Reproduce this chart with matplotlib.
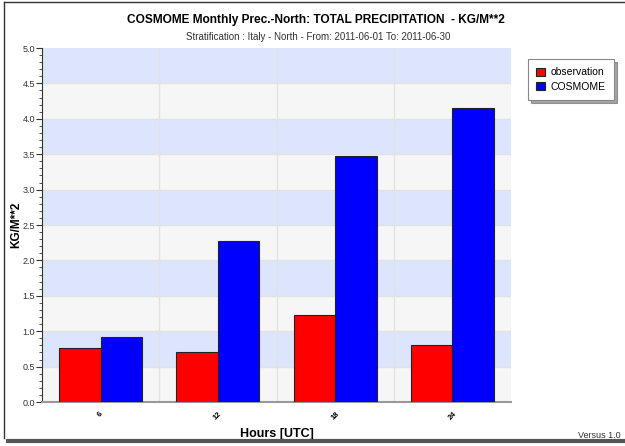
import matplotlib
matplotlib.use("Agg")
import matplotlib.pyplot as plt
from matplotlib.lines import Line2D
from matplotlib.ticker import MultipleLocator, FormatStrFormatter
import numpy as np

plt.rcParams["font.family"] = ["Liberation Sans", "DejaVu Sans"]

hours = ["6", "12", "18", "24"]
observation = [0.76, 0.70, 1.23, 0.80]
cosmome = [0.92, 2.27, 3.47, 4.15]

fig = plt.figure(figsize=(6.25, 4.46), dpi=100)
ax = fig.add_axes([42 / 625, 1 - 402 / 446, 469 / 625, 354 / 446])

# alternating background bands
for i in range(10):
    ax.axhspan(i * 0.5, (i + 1) * 0.5, color="#dde5fd" if i % 2 else "#f6f6f6", zorder=0, lw=0)
for y in np.arange(0.5, 5.0, 0.5):
    ax.axhline(y, color="#e2e2e2", lw=1, zorder=1)
for x in [0.5, 1.5, 2.5]:
    ax.axvline(x, color="#e2e2e2", lw=1, zorder=1)

x = np.arange(len(hours))
w = 0.355
ax.bar(x - w / 2, observation, w, color="#ff0000", edgecolor="#222222", lw=0.8, zorder=3, label="observation")
ax.bar(x + w / 2, cosmome, w, color="#0000ff", edgecolor="#222222", lw=0.8, zorder=3, label="COSMOME")

ax.set_xlim(-0.5, 3.5)
ax.set_ylim(0, 5.0)
ax.yaxis.set_major_locator(MultipleLocator(0.5))
ax.yaxis.set_minor_locator(MultipleLocator(0.1))
ax.yaxis.set_major_formatter(FormatStrFormatter("%.1f"))
ax.set_xticks(x)
ax.set_xticklabels(hours, rotation=45, fontsize=5.5, fontweight="bold")
ax.tick_params(axis="y", labelsize=6.5, colors="#333333", length=4, width=0.8, pad=1)
ax.tick_params(axis="y", which="minor", length=2, width=0.6, colors="#333333")
ax.tick_params(axis="x", length=0, pad=6)
for s in ["top", "right"]:
    ax.spines[s].set_visible(False)
ax.spines["left"].set_color("#333333")
ax.spines["left"].set_linewidth(0.8)
ax.spines["bottom"].set_color("#999999")
ax.spines["bottom"].set_linewidth(1.5)

ax.set_ylabel("KG/M**2", fontsize=8.5, fontweight="bold")
ax.yaxis.set_label_coords(-0.042, 0.5)
ax.set_xlabel("Hours [UTC]", fontsize=9, fontweight="bold", labelpad=5)

fig.text(0.505, 1 - 20 / 446, "COSMOME Monthly Prec.-North: TOTAL PRECIPITATION  - KG/M**2",
         ha="center", va="center", fontsize=8.6, fontweight="bold")
fig.text(0.509, 1 - 37 / 446, "Stratification : Italy - North - From: 2011-06-01 To: 2011-06-30",
         ha="center", va="center", fontsize=7, color="#333333")

leg = fig.legend(loc="upper left", bbox_to_anchor=(528 / 625, 1 - 59 / 446), fontsize=7.5,
                 handlelength=0.8, handleheight=0.8, handletextpad=0.6, borderpad=0.8,
                 borderaxespad=0, fancybox=False, shadow=True, labelspacing=0.4)
leg.get_frame().set_edgecolor("#888888")
leg.get_frame().set_linewidth(0.8)
for h in leg.legend_handles:
    h.set_linewidth(0.8)

fig.text(578 / 625, 1 - 436 / 446, "Versus 1.0", fontsize=6.5, color="#333333", va="center")

# window frame
fig.add_artist(Line2D([4 / 625, 4 / 625], [1 - 2 / 446, 1 - 438 / 446], color="#333333", lw=1))
fig.add_artist(Line2D([4 / 625, 1], [1 - 2 / 446, 1 - 2 / 446], color="#333333", lw=1))
fig.add_artist(Line2D([8 / 625, 1], [1 - 441 / 446, 1 - 441 / 446], color="#555555", lw=3))

fig.savefig("out.png", dpi=100)
